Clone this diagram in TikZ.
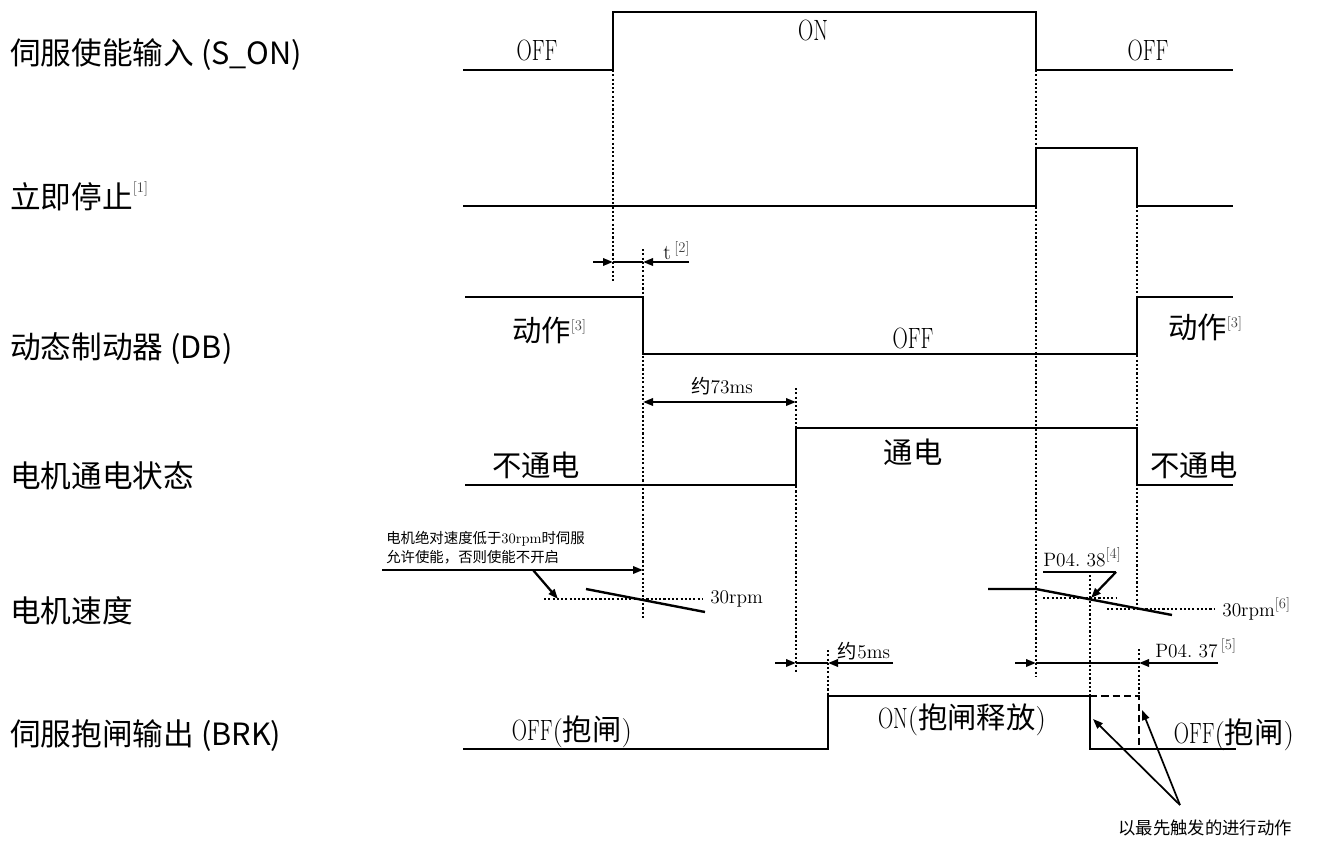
\documentclass[tikz,border=0pt]{standalone}
\usepackage{fontspec}
\usepackage{graphicx}
\newfontfamily\cjk{Noto Sans CJK SC}
\usetikzlibrary{arrows.meta}
\newcommand{\nar}[1]{\scalebox{0.72}[1]{#1}}
\newcommand{\fnm}[2][1.0ex]{\raisebox{#1}{\color{black!75}\fontsize{11}{11}\selectfont\rmfamily[#2]}}
\begin{document}
\begin{tikzpicture}[x=0.75pt,y=-0.75pt,
  wave/.style={line width=1.8pt},
  guide/.style={line width=1.7pt, dash pattern=on 1.6pt off 1.6pt},
  altpath/.style={line width=1.8pt, dash pattern=on 5.5pt off 3pt},
  dim/.style={line width=1.7pt},
  thinarr/.style={line width=1.3pt},
  tip/.tip={Triangle[length=7.5pt,width=5.5pt]},
  lbl/.style={font=\cjk\fontsize{23}{23}\selectfont, anchor=west, inner sep=0pt},
  big/.style={font=\fontsize{22}{22}\selectfont, inner sep=0pt},
  small/.style={font=\fontsize{14.5}{14.5}\selectfont, inner sep=0pt},
  note/.style={font=\cjk\fontsize{10.8}{13.5}\selectfont, inner sep=0pt, anchor=west}
]
\useasboundingbox (0,0) rectangle (1342,842);

% ---- left labels
\node[lbl] (lS) at (10,55) {伺服使能输入 (S\_ON)};
\node[lbl] (lE) at (10,196) {立即停止\fnm[0.95ex]{1}};
\node[lbl] (lD) at (10,349) {动态制动器 (DB)};
\node[lbl] (lP) at (10,476) {电机通电状态};
\node[lbl] (lV) at (10,611) {电机速度};
\node[lbl] (lB) at (10,736) {伺服抱闸输出 (BRK)};

% ---- dotted guides
\draw[guide] (613,70) -- (613,282);
\draw[guide] (643,249) -- (643,618);
\draw[guide] (796,388) -- (796,672);
\draw[guide] (828,650) -- (828,696);
\draw[guide] (1036,70) -- (1036,676);
\draw[guide] (1137,206) -- (1137,608);
\draw[guide] (1090,575) -- (1090,696);
\draw[guide] (1139,649) -- (1139,696);

% ---- waveforms
\draw[wave] (463,70) -- (613,70) -- (613,12) -- (1036,12) -- (1036,70) -- (1233,70);
\draw[wave] (463,206) -- (1036,206) -- (1036,148) -- (1137,148) -- (1137,206) -- (1233,206);
\draw[wave] (465,297) -- (643,297) -- (643,354) -- (1137,354) -- (1137,297) -- (1233,297);
\draw[wave] (465,485) -- (796,485) -- (796,428) -- (1137,428) -- (1137,485) -- (1233,485);
\draw[wave] (463,749) -- (828,749) -- (828,696) -- (1090,696) -- (1090,749) -- (1236,749);
\draw[altpath] (1090,696) -- (1139,696) -- (1139,749);

% ---- waveform texts
\node[big] (t1) at (537,50) {\nar{OFF}};
\node[big] (t2) at (813,30) {\nar{ON}};
\node[big] (t3) at (1148,50) {\nar{OFF}};
\node[big, anchor=west] (t4) at (512,330) {{\cjk 动作}\fnm[0.85ex]{3}};
\node[big] (t5) at (913,338) {\nar{OFF}};
\node[big, anchor=west] (t6) at (1168,327) {{\cjk 动作}\fnm[0.85ex]{3}};
\node[big] (t7) at (536,465) {\cjk 不通电};
\node[big] (t8) at (913,452) {\cjk 通电};
\node[big] (t9) at (1194,465) {\cjk 不通电};
\node[big] (t10) at (572,732) {\nar{OFF}({\cjk 抱闸})};
\node[big] (t11) at (962,720) {\nar{ON}({\cjk 抱闸释放})};
\node[big] (t12) at (1234,735) {\nar{OFF}({\cjk 抱闸})};

% ---- t dimension
\coordinate (ta) at (593,262); \coordinate (tb) at (613,262);
\coordinate (tc) at (643,262); \coordinate (td) at (689,262);
\draw[dim,-tip] (ta) -- (tb);
\draw[dim] (tb) -- (tc);
\draw[dim,-tip] (td) -- (tc);
\node[font=\fontsize{16}{16}\selectfont, inner sep=0pt, anchor=west] (tt) at (663,251) {t\,\fnm[0.75ex]{2}};

% ---- 73 ms
\coordinate (ma) at (643,402); \coordinate (mb) at (796,402);
\draw[dim,tip-tip] (ma) -- (mb);
\node[small] (m73) at (722,386) {{\cjk 约}73ms};

% ---- 5 ms
\coordinate (fa) at (775,663); \coordinate (fb) at (796,663);
\coordinate (fc) at (828,663); \coordinate (fd) at (893,663);
\draw[dim,-tip] (fa) -- (fb);
\draw[dim] (fb) -- (fc);
\draw[dim,-tip] (fd) -- (fc);
\node[small] (m5) at (864,651) {{\cjk 约}5ms};

% ---- P04.37
\coordinate (pa) at (1015,663); \coordinate (pb) at (1036,663);
\coordinate (pc) at (1139,663); \coordinate (pd) at (1218,663);
\draw[dim,-tip] (pa) -- (pb);
\draw[dim] (pb) -- (pc);
\draw[dim,-tip] (pd) -- (pc);
\node[small, anchor=west] (p37) at (1155,648) {P04.\ 37\,\fnm[0.9ex]{5}};

% ---- speed, left
\coordinate (sa) at (382,570); \coordinate (sb) at (643,570);
\coordinate (sc) at (533,570); \coordinate (sd) at (558,599);
\draw[dim,-tip] (sa) -- (sb);
\draw[dim,-tip] (sc) -- (sd);
\draw[guide] (544,599) -- (703,599);
\draw[wave] (586,589) -- (705,612);
\node[small, anchor=west] (r30a) at (710,599) {30rpm};
\node[note] (n1) at (386,539) {电机绝对速度低于{\rmfamily 30rpm}时伺服};
\node[note] (n2) at (386,557) {允许使能，否则使能不开启};

% ---- speed, right
\draw[wave] (988,589) -- (1036,589) -- (1172,615);
\draw[guide] (1043,598) -- (1116,598);
\draw[guide] (1107,609) -- (1215,609);
\coordinate (la) at (1043,572); \coordinate (lb) at (1116,572); \coordinate (lc) at (1091,598);
\draw[dim] (la) -- (lb);
\draw[dim,-tip] (lb) -- (lc);
\node[small, anchor=south west] (p38) at (1043,567) {P04.\ 38\fnm[0.9ex]{4}};
\node[small, anchor=west] (r30b) at (1222,609) {30rpm\fnm[0.9ex]{6}};

% ---- first-triggered note
\coordinate (ya) at (1180,805);
\coordinate (yb) at (1093,719);
\coordinate (yc) at (1142,710);
\draw[thinarr,-tip] (ya) -- (yb);
\draw[thinarr,-tip] (ya) -- (yc);
\node[font=\cjk\fontsize{13}{13}\selectfont, inner sep=0pt] (first) at (1205,828) {以最先触发的进行动作};
\end{tikzpicture}
\end{document}
